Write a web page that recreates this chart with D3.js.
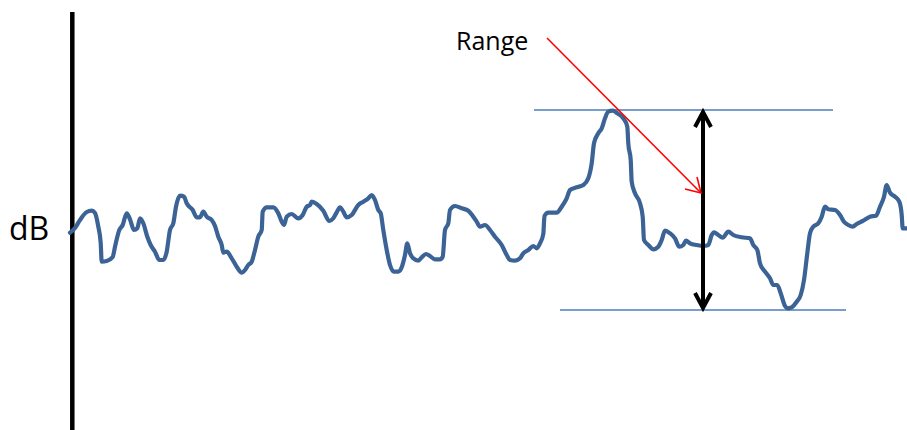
<!DOCTYPE html>
<html>
<head>
<meta charset="utf-8">
<script src="https://cdn.jsdelivr.net/npm/d3@7"></script>
<style>
    html, body { margin: 0; padding: 0; background: #fff; }
    svg { display: block; }
    text { font-family: "Open Sans", sans-serif; fill: #000; }
</style>
</head>
<body>
<div id="chart"></div>
<script>
// signal trace: [time, level in dB]
const trace = [
    [0, -0.27], [5, 0.2], [10, 1.0], [16.7, 1.8], [21.7, 1.93], [25, 1.7], [28.3, 0.33], [30.7, -1.3],
    [31.7, -3.17], [36.7, -3.1], [42.7, -2.7], [45, -1.67], [49.3, 0], [52.7, 0.5], [56.7, 1.67], [60, 1.07],
    [64, 0], [67.3, 0.17], [70, 1.17], [73.3, 0.67], [77.3, -0.67], [80.7, -1.5], [85, -2.17], [89.3, -3.0],
    [93.3, -3.0], [96.7, -2.17], [100, 0], [103.3, 0.67], [106, 2.33], [110, 3.43], [114, 3.33], [116.7, 2.67],
    [122.7, 2.0], [126.7, 1.27], [130, 1.27], [133.3, 1.83], [136.7, 1.33], [141.7, 1.0], [145, 0.4], [148.3, -0.67],
    [151.7, -1.5], [153.3, -2.27], [156.7, -2.17], [161.7, -2.83], [166.7, -3.67], [171.7, -4.27], [175, -4.0], [178.3, -3.5],
    [181.7, -3.17], [185, -2.0], [188.3, -0.67], [191.7, 0], [192.7, 1.83], [196.7, 2.27], [203.3, 2.27], [208.3, 1.67],
    [211.7, 0.83], [214, 0.5], [216.7, 1.33], [221.7, 1.6], [228.3, 1.17], [232.7, 1.5], [236.7, 2.33], [240, 2.5],
    [241.7, 2.83], [246.7, 2.6], [253.3, 1.93], [259.3, 0.9], [263.3, 1.17], [266.7, 1.77], [270, 2.27], [273.3, 1.83],
    [276.7, 1.27], [281.7, 1.5], [288.3, 2.5], [293.3, 2.83], [298.3, 3.17], [301.7, 3.5], [305, 3.0], [308.3, 2.0],
    [310.7, 1.67], [313.3, 0], [316.7, -2.0], [320, -3.5], [324, -4.17], [328.3, -4.17], [331.7, -3.73], [335, -2.5],
    [337.3, -1.33], [340, -2.33], [343.3, -2.83], [348.3, -3.07], [351.7, -2.73], [356, -2.4], [360, -2.6], [365, -2.93],
    [370, -2.93], [372.7, -2.67], [375, 0], [378.3, 0.67], [380, 2.0], [385, 2.4], [391.7, 2.17], [398.3, 1.93],
    [403.3, 1.33], [406.7, 0.83], [410, 0.33], [415, 0.5], [420, 0], [425, -0.67], [431.7, -1.5], [436.7, -2.5],
    [440, -3.0], [445, -3.07], [450, -2.83], [453.3, -2.33], [458.3, -2.0], [463.3, -1.6], [466.7, -1.83], [470, -1.33],
    [473.3, -0.4], [474.5, 1.4], [478.3, 1.73], [486.7, 1.73], [491.7, 2.33], [496.7, 3.17], [500, 4.0], [506.7, 4.27],
    [513.3, 4.5], [518.3, 5.17], [521.7, 6.67], [524, 8.67], [528.3, 9.67], [531.7, 10.17], [535, 11.17], [538.3, 11.83],
    [542.7, 11.93], [547.3, 11.67], [553.3, 11.17], [557.3, 10.33], [558.3, 8.67], [560.7, 7.0], [561.7, 4.83], [565, 3.67],
    [570, 2.67], [572.7, 1.33], [574, -1.0], [578.3, -1.5], [583.3, -1.93], [588.3, -1.67], [591.7, -1.0], [595, -0.07],
    [600, -0.33], [605, -0.83], [609.3, -1.67], [613.3, -1.5], [616, -1.07], [620, -1.33], [626.7, -1.5], [633.3, -1.6],
    [638.3, -1.5], [641.7, -0.5], [644, -0.23], [648.3, -0.5], [652.7, -0.77], [658.3, -0.17], [663.3, -0.5], [671.7, -0.73],
    [680, -0.83], [683.3, -1.5], [687.3, -2.0], [690, -3.33], [695, -4.17], [700, -4.83], [703.3, -5.5], [707.3, -5.5],
    [710.7, -6.33], [715, -7.6], [717.3, -7.83], [721.7, -7.73], [726.7, -7.17], [730.7, -6.5], [734, -5.0], [737.3, -2.33],
    [740, -0.33], [743.3, 0.33], [748.3, 0.67], [751.7, 1.33], [755, 2.33], [758.3, 2.07], [765, 2.0], [770, 1.5],
    [774, 0.83], [778.3, 0.5], [782.7, 0.33], [786.7, 0.6], [793.3, 0.93], [800, 1.33], [806, 1.43], [810, 2.33],
    [814, 3.33], [816.7, 4.5], [820, 3.73], [825, 3.33], [829.3, 2.83], [831.7, 1.5], [832.7, 0.17], [836.7, 0.17]
];

// range limits (dB) and where the range marker sits (time)
const rangeTop = 12;
const rangeBottom = -8;
const rangeAt = 633;
const topLineSpan = [464, 763];
const bottomLineSpan = [490, 776];

const width = 907, height = 430;

const svg = d3.select('#chart').append('svg')
    .attr('width', width)
    .attr('height', height);

const x = d3.scaleLinear().domain([0, 837]).range([70, 907]);
const y = d3.scaleLinear().domain([rangeBottom, rangeTop]).range([310, 110]);

// y axis as a plain thick bar
svg.append('line')
    .attr('x1', 72.3).attr('x2', 72.3)
    .attr('y1', 12).attr('y2', height)
    .attr('stroke', '#000')
    .attr('stroke-width', 4.5);

svg.append('text')
    .attr('x', 9)
    .attr('y', 240)
    .style('font-size', '32px')
    .text('dB');

// max / min guide lines
svg.append('line')
    .attr('x1', x(topLineSpan[0])).attr('x2', x(topLineSpan[1]))
    .attr('y1', y(rangeTop)).attr('y2', y(rangeTop))
    .attr('stroke', '#4a7ebb')
    .attr('stroke-width', 1.5);
svg.append('line')
    .attr('x1', x(bottomLineSpan[0])).attr('x2', x(bottomLineSpan[1]))
    .attr('y1', y(rangeBottom)).attr('y2', y(rangeBottom))
    .attr('stroke', '#4a7ebb')
    .attr('stroke-width', 1.5);

// signal line
const line = d3.line()
    .x(d => x(d[0]))
    .y(d => y(d[1]))
    .curve(d3.curveMonotoneX);

svg.append('path')
    .datum(trace)
    .attr('d', line)
    .attr('fill', 'none')
    .attr('stroke', '#3b6396')
    .attr('stroke-width', 4.2)
    .attr('stroke-linejoin', 'round')
    .attr('stroke-linecap', 'round');

// double-headed range arrow
const ax = x(rangeAt);
const yt = y(rangeTop), yb = y(rangeBottom);
svg.append('line')
    .attr('x1', ax).attr('x2', ax)
    .attr('y1', yt + 2).attr('y2', yb - 2)
    .attr('stroke', '#000')
    .attr('stroke-width', 4);
svg.append('path')
    .attr('d', `M${ax - 8} ${yt + 17} L${ax} ${yt + 2} L${ax + 8} ${yt + 17}`)
    .attr('fill', 'none')
    .attr('stroke', '#000')
    .attr('stroke-width', 4);
svg.append('path')
    .attr('d', `M${ax - 8} ${yb - 17} L${ax} ${yb - 2} L${ax + 8} ${yb - 17}`)
    .attr('fill', 'none')
    .attr('stroke', '#000')
    .attr('stroke-width', 4);

// red pointer with label
svg.append('text')
    .attr('x', 456)
    .attr('y', 50)
    .style('font-size', '25px')
    .text('Range');

const tipX = ax - 2, tipY = 193;
svg.append('line')
    .attr('x1', 547).attr('y1', 38)
    .attr('x2', tipX).attr('y2', tipY)
    .attr('stroke', '#ff0000')
    .attr('stroke-width', 1.6);
svg.append('path')
    .attr('d', `M${tipX - 16} ${tipY - 4} L${tipX} ${tipY} L${tipX - 4} ${tipY - 16}`)
    .attr('fill', 'none')
    .attr('stroke', '#ff0000')
    .attr('stroke-width', 1.6);
</script>
</body>
</html>
